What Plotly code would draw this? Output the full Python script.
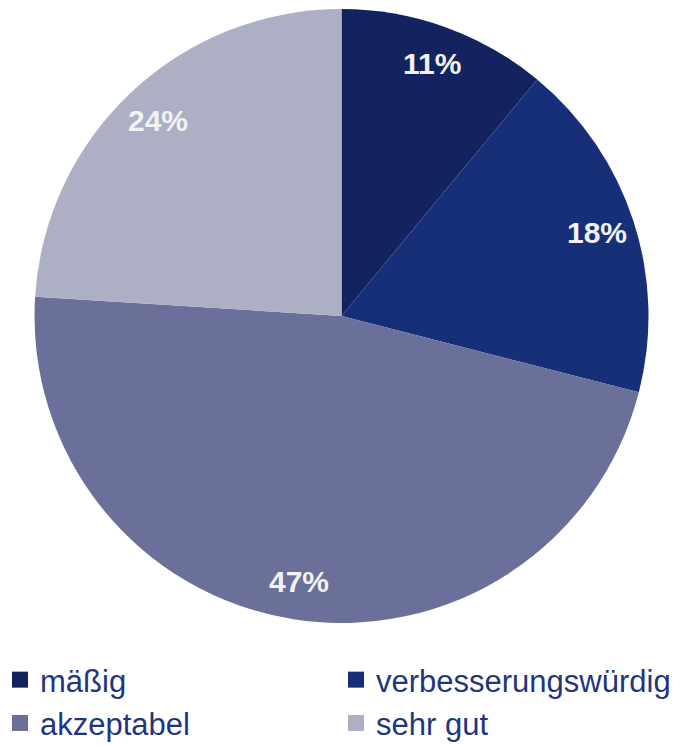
import math
import plotly.graph_objects as go

# Data
categories = ['mäßig', 'verbesserungswürdig', 'akzeptabel', 'sehr gut']
shares = [11, 18, 47, 24]
colors = ['#13235f', '#172f78', '#6a7099', '#adafc4']

W, H = 681, 745
B = 110               # bottom margin holding the legend
PH = H - B            # plot area height in px


def py2paper(y):
    return (PH - y) / PH


# pie geometry (paper fractions)
dom_x = [34 / W, 649 / W]
dom_y = [py2paper(623), py2paper(9)]

fig = go.Figure()

fig.add_trace(go.Pie(
    labels=categories,
    values=shares,
    sort=False,
    direction='clockwise',
    rotation=0,
    marker=dict(colors=colors, line=dict(width=0)),
    textinfo='none',
    domain=dict(x=dom_x, y=dom_y),
    hoverinfo='label+percent',
    showlegend=False,
))

# percentage labels placed along each slice's bisector
cx = (34 + 649) / 2
cy = (9 + 623) / 2
rad = (623 - 9) / 2
total = sum(shares)
cum = 0
for v in shares:
    mid = (cum + v / 2) / total * 2 * math.pi
    cum += v
    px_ = cx + 0.875 * rad * math.sin(mid)
    py_ = cy - 0.875 * rad * math.cos(mid)
    fig.add_annotation(
        x=px_ / W, y=py2paper(py_), xref='paper', yref='paper',
        xanchor='center', yanchor='middle',
        text=f'<b>{v}%</b>', showarrow=False,
        font=dict(family='Liberation Sans', size=30, color='#f2f2f2'),
    )

# legend entries with bigger square symbols
for name, col in zip(categories, colors):
    fig.add_trace(go.Scatter(
        x=[None], y=[None], mode='markers', name=name,
        marker=dict(symbol='square', size=16, color=col),
    ))

fig.update_layout(
    width=W,
    height=H,
    margin=dict(l=0, r=0, t=0, b=B, autoexpand=False),
    paper_bgcolor='white',
    plot_bgcolor='white',
    xaxis=dict(visible=False),
    yaxis=dict(visible=False),
    showlegend=True,
    legend=dict(
        orientation='h',
        x=0,
        xanchor='left',
        y=py2paper(653),
        yanchor='top',
        entrywidth=291,
        entrywidthmode='pixels',
        itemsizing='trace',
        font=dict(family='Liberation Sans', size=31, color='#1f3580'),
        itemclick=False,
    ),
)

fig.write_html("out.html", config={'displayModeBar': False},
               post_script="document.body.style.margin='0';")
